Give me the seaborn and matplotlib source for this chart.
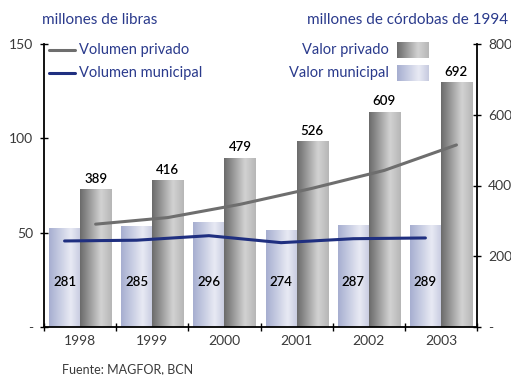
import numpy as np
import pandas as pd
import matplotlib
matplotlib.use("Agg")
import matplotlib.pyplot as plt
from matplotlib.colors import LinearSegmentedColormap
import seaborn as sns

# Data
years = ["1998", "1999", "2000", "2001", "2002", "2003"]
valor_municipal = [281, 285, 296, 274, 287, 289]      # millones de córdobas de 1994
valor_privado = [389, 416, 479, 526, 609, 692]        # millones de córdobas de 1994
volumen_privado = [54.5, 58.0, 65.0, 73.5, 83.0, 96.5]  # millones de libras
volumen_municipal = [45.6, 46.0, 48.4, 44.7, 46.8, 47.2]  # millones de libras

left_ticks = [0, 50, 100, 150]
left_ticklabels = ["-", "50", "100", "150"]
right_ticks = [0, 200, 400, 600, 800]
right_ticklabels = ["-", "200", "400", "600", "800"]

NAVY = "#2a3a8c"
LINE_NAVY = "#1f2f80"
LINE_GRAY = "#6e6e6e"
TICK_COL = "#3a3a3a"
TXT_W = "normal"

sns.set_theme(style="white")
plt.rcParams["font.family"] = ["Lato", "DejaVu Sans"]

fig = plt.figure(figsize=(5.11, 3.75), dpi=100)
W, H = 511, 375
ax = fig.add_axes([44 / W, (H - 327) / H, (477 - 44) / W, (327 - 44) / H])
ax.patch.set_alpha(0)

df = pd.DataFrame({
    "year": years * 2,
    "valor": valor_municipal + valor_privado,
    "serie": ["Valor municipal"] * 6 + ["Valor privado"] * 6,
})
sns.barplot(data=df, x="year", y="valor", hue="serie",
            hue_order=["Valor municipal", "Valor privado"],
            palette=["#c8cce0", "#b0b0b0"], width=0.86, dodge=True,
            legend=False, ax=ax, saturation=1, linewidth=0)

cmap_mun = LinearSegmentedColormap.from_list(
    "mun", [(0, "#a6aed0"), (0.68, "#e8eaf4"), (1, "#c6cadf")])
cmap_priv = LinearSegmentedColormap.from_list(
    "priv", [(0, "#6a6a6a"), (0.66, "#d2d2d2"), (1, "#b6b6b6")])
grad = np.linspace(0, 1, 256).reshape(1, -1)

patches = list(ax.patches)
mun_patches = patches[:6]
priv_patches = patches[6:]
for group, cmap in ((mun_patches, cmap_mun), (priv_patches, cmap_priv)):
    for p in group:
        x0, y0 = p.get_x(), p.get_y()
        w, h = p.get_width(), p.get_height()
        im = ax.imshow(grad, cmap=cmap, aspect="auto",
                       extent=(x0, x0 + w, y0, y0 + h), zorder=2,
                       interpolation="bilinear")
        im.set_clip_path(p)
        p.set_facecolor("none")

ax.set_xlim(-0.5, 5.5)
ax.set_ylim(0, 800)

# value labels
for i, p in enumerate(priv_patches):
    cx = p.get_x() + p.get_width() / 2
    ax.annotate(str(valor_privado[i]), (cx, valor_privado[i]),
                xytext=(0, 3), textcoords="offset points",
                ha="center", va="bottom", fontsize=9.5, color="black",
                fontweight="semibold")
for i, p in enumerate(mun_patches):
    cx = p.get_x() + p.get_width() / 2
    ax.text(cx, 127, str(valor_municipal[i]), ha="center", va="center",
            fontsize=9.5, color="black", fontweight="semibold", zorder=5)

ax.set_xlabel("")
ax.set_ylabel("")

# Volume lines on the left scale
ax2 = ax.twinx()
ax2.patch.set_alpha(0)
mun_x = [p.get_x() + p.get_width() / 2 for p in mun_patches]
priv_x = [p.get_x() + p.get_width() / 2 for p in priv_patches]
sns.lineplot(x=priv_x, y=volumen_privado, color=LINE_GRAY, linewidth=2.2,
             ax=ax2, label="Volumen privado", legend=False)
sns.lineplot(x=mun_x, y=volumen_municipal, color=LINE_NAVY, linewidth=2.2,
             ax=ax2, label="Volumen municipal", legend=False)
ax2.set_xlim(-0.5, 5.5)
ax2.set_ylim(0, 150)
ax2.set_yticks(left_ticks)
ax2.set_yticklabels(left_ticklabels)
ax2.tick_params(axis="y", direction="inout", length=6, width=1,
                color="black", left=True, right=False,
                labelleft=True, labelright=False,
                labelsize=10, labelcolor=TICK_COL, pad=5)
for side in ("top", "right", "bottom"):
    ax2.spines[side].set_visible(False)
ax2.spines["left"].set_visible(True)
ax2.spines["left"].set_color("black")
ax2.spines["left"].set_linewidth(1.3)

# Right axis carries the value scale
ax.set_yticks(right_ticks)
ax.set_yticklabels(right_ticklabels)
ax.tick_params(axis="y", direction="inout", length=6, width=1,
               color="black", right=True, left=False,
               labelright=True, labelleft=False,
               labelsize=10, labelcolor=TICK_COL, pad=5)
ax.set_xticks(np.arange(-0.5, 6, 1), minor=False)
ax.set_xticklabels([])
ax.set_xticks(np.arange(6), minor=True)
ax.set_xticklabels(years, minor=True)
ax.tick_params(axis="x", which="major", direction="inout", length=6,
               width=1, color="black", bottom=True)
ax.tick_params(axis="x", which="minor", length=0, pad=6,
               labelsize=10, labelcolor=TICK_COL)
for side in ("top", "left"):
    ax.spines[side].set_visible(False)
for side in ("right", "bottom"):
    ax.spines[side].set_visible(True)
    ax.spines[side].set_color("black")
    ax.spines[side].set_linewidth(1.3)

# Axis titles
fig.text(42 / W, 1 - 20 / H, "millones de libras", ha="left", va="center",
         fontsize=11, color=NAVY, fontweight=TXT_W)
fig.text(508 / W, 1 - 20 / H, "millones de córdobas de 1994", ha="right",
         va="center", fontsize=11, color=NAVY, fontweight=TXT_W)

# Legend, left block: line samples
for yy, col, lab in ((50, LINE_GRAY, "Volumen privado"),
                     (73, LINE_NAVY, "Volumen municipal")):
    fig.add_artist(plt.Line2D([49 / W, 75 / W], [1 - yy / H, 1 - yy / H],
                              color=col, linewidth=2.2))
    fig.text(79 / W, 1 - yy / H, lab, ha="left", va="center",
             fontsize=10.5, color=NAVY, fontweight=TXT_W)

# Legend, right block: gradient swatches
for yy, cmap, lab in ((50, cmap_priv, "Valor privado"),
                      (73, cmap_mun, "Valor municipal")):
    sw = fig.add_axes([397 / W, 1 - (yy + 8) / H, 32 / W, 16 / H])
    sw.imshow(grad, cmap=cmap, aspect="auto", interpolation="bilinear")
    sw.axis("off")
    fig.text(389 / W, 1 - yy / H, lab, ha="right", va="center",
             fontsize=10.5, color=NAVY, fontweight=TXT_W)

fig.text(62 / W, 1 - 369 / H, "Fuente: MAGFOR, BCN", ha="left",
         va="center", fontsize=9, color=TICK_COL, fontweight=TXT_W)

fig.savefig("out.png", dpi=100)
